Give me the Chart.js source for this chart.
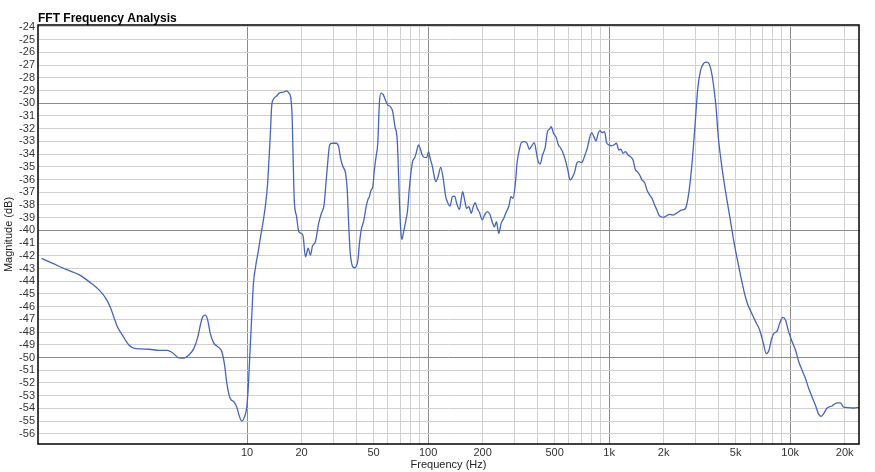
<!DOCTYPE html>
<html><head><meta charset="utf-8">
<script src="https://cdn.jsdelivr.net/npm/chart.js@4.4.1/dist/chart.umd.min.js"></script>
<style>html,body{margin:0;padding:0;background:#fff}canvas{display:block}</style>
</head><body>
<canvas id="c" width="875" height="472"></canvas>
<script>
const chartTitle = 'FFT Frequency Analysis';
const xAxisTitle = 'Frequency (Hz)';
const yAxisTitle = 'Magnitude (dB)';

const freqHz = [
0.732,0.845,1.0,1.185,1.345,1.526,1.659,1.767,1.845,1.924,2.049,2.230,2.424,2.872,3.261,3.622,3.857,4.199,4.472,4.764,
5.077,5.340,5.518,5.687,5.877,6.059,6.262,6.538,6.902,7.261,7.513,7.735,8.065,8.482,8.776,9.036,9.352,9.676,9.96,10.18,
10.39,10.61,10.84,11.16,11.55,11.79,12.30,12.67,12.99,13.21,13.45,13.67,13.97,14.56,15.18,15.85,16.53,17.02,17.45,17.76,
17.99,18.22,18.76,19.31,19.98,20.41,21.01,21.75,22.39,22.96,23.85,24.86,25.73,26.63,27.18,27.77,28.58,29.47,31.11,32.03,
32.85,33.87,34.99,35.75,36.34,37.14,39.21,40.94,41.78,42.68,44.17,45.48,46.45,47.40,48.43,49.48,50.49,51.59,52.72,53.80,
54.96,56.58,58.03,59.82,61.82,63.73,65.61,67.30,68.16,69.29,70.79,71.69,73.25,75.42,77.05,78.63,80.34,82.09,84.51,86.36,
88.58,90.36,92.35,95.06,98.37,100.5,102.6,105.7,107.9,110.2,113.5,117.4,121.5,125.1,128.8,132.1,136.2,140.2,143.8,148.8,
151.2,155.1,159.1,163.2,168.0,173.2,177.6,182.1,186.8,192.3,199.0,204.9,212.0,219.1,225.9,232.6,238.5,245.6,253.2,261.6,
270.7,278.7,287.3,294.7,303.4,310.0,319.1,327.3,339.9,351.8,362.2,371.5,385.8,395.7,404.3,416.2,428.5,443.4,456.5,468.2,
478.5,492.6,509.7,524.8,540.8,559.0,576.2,591.0,608.5,626.5,645.8,662.3,681.9,705.5,719.8,735.5,757.2,776.6,800.6,824.2,
845.3,870.4,889.3,915.5,943.7,967.8,996.3,1031,1061,1098,1131,1160,1194,1231,1272,1311,1355,1397,1432,1475,
1518,1571,1618,1674,1723,1783,1835,1883,1941,1998,2068,2156,2247,2346,2425,2500,2606,2663,2752,2837,
2921,2996,3083,3190,3314,3429,3544,3653,3761,3892,4007,4146,4323,4507,4705,4906,5116,5340,5568,5804,
6138,6456,6791,7079,7381,7638,7904,8137,8484,8746,9119,9435,9750,10177,10708,11163,11640,12150,12667,13211,
13793,14381,14880,15320,15975,17017,18124,18924,19730,21010,22387,23340,24000
];
const magnitudeDb = [
-42.2,-42.6,-43.07,-43.5,-44.05,-44.7,-45.35,-46.14,-46.9,-47.6,-48.24,-49.03,-49.3,-49.35,-49.43,-49.43,-49.6,-50.03,-50.05,-49.8,
-49.3,-48.4,-47.46,-46.8,-46.67,-47.06,-48.1,-48.85,-49.16,-49.56,-50.6,-52.05,-53.2,-53.5,-53.9,-54.55,-55.0,-54.67,-53.9,-52.05,
-49.4,-46.8,-44.2,-42.8,-41.6,-40.76,-39.2,-37.9,-36.3,-34.46,-32.36,-30.27,-29.7,-29.43,-29.17,-29.13,-29.03,-29.2,-29.6,-31.3,
-34.7,-37.6,-38.9,-40.1,-40.24,-40.5,-42.08,-41.4,-41.95,-41.24,-40.9,-39.45,-38.66,-38.0,-36.57,-34.99,-33.28,-33.15,-33.15,-33.4,
-34.33,-35.0,-35.5,-36.83,-39.2,-41.8,-42.94,-42.34,-41.0,-39.98,-39.2,-38.14,-37.6,-37.35,-36.83,-36.57,-35.25,-34.2,-33.15,-30.0,
-29.21,-29.35,-29.74,-30.13,-30.27,-30.66,-31.84,-32.63,-34.2,-37.35,-40.24,-40.7,-40.1,-39.19,-38.4,-36.83,-35.5,-34.6,-34.25,-33.8,
-33.28,-33.54,-33.99,-34.25,-34.28,-33.8,-34.33,-35.0,-35.7,-36.17,-35.78,-35.04,-36.04,-37.35,-37.87,-38.09,-37.35,-37.3,-37.87,-38.35,
-37.87,-36.96,-37.6,-38.27,-38.14,-38.66,-38.14,-37.83,-38.27,-38.6,-39.19,-38.8,-38.53,-38.72,-39.32,-39.72,-39.32,-40.24,-39.45,-39.06,
-38.53,-38.14,-37.35,-37.48,-36.3,-34.72,-33.68,-33.1,-33.02,-33.15,-33.62,-33.41,-33.1,-33.8,-34.52,-34.78,-34.07,-33.47,-32.24,-32.05,
-31.84,-32.36,-32.68,-33.28,-33.54,-33.99,-34.6,-35.25,-36.04,-35.83,-35.38,-34.72,-34.6,-34.68,-34.46,-34.07,-33.54,-32.83,-32.31,-32.63,
-32.97,-32.36,-32.15,-32.31,-32.24,-33.1,-33.28,-33.36,-33.28,-33.15,-33.68,-33.62,-33.94,-33.8,-34.07,-34.2,-34.46,-35.25,-35.38,-35.65,
-36.04,-36.25,-36.83,-37.22,-37.48,-38.0,-38.4,-38.8,-38.93,-38.98,-38.87,-38.74,-38.8,-38.66,-38.53,-38.4,-38.35,-38.14,-37.09,-35.5,
-33.41,-31.3,-28.95,-27.5,-26.9,-26.77,-26.85,-27.38,-28.43,-30.27,-32.63,-34.46,-36.3,-37.87,-39.45,-41.02,-42.34,-43.65,-44.83,-45.75,
-46.54,-47.2,-47.85,-48.77,-49.69,-49.43,-48.5,-48.1,-47.9,-47.32,-46.85,-47.06,-47.85,-48.64,-49.43,-50.35,-51.0,-51.65,-52.44,-53.1,
-53.76,-54.47,-54.62,-54.41,-53.97,-53.81,-53.57,-53.57,-53.9,-53.94,-53.97,-53.94,-53.94
];

const xTickValues = [10,20,30,40,50,60,70,80,90,100,200,300,400,500,600,700,800,900,1000,2000,3000,4000,5000,6000,7000,8000,9000,10000,20000];
const xTickLabels = ['10','20','','','50','','','','','100','200','','','500','','','','','1k','2k','','','5k','','','','','10k','20k'];
const yTickValues = [];
for (let v = -56; v <= -24; v++) yTickValues.push(v);

const xMin = 0.732, xMax = 24000;
const yMin = -56.8, yMax = -23.85;

const FONT = '"Liberation Sans", Arial, Helvetica, sans-serif';

const points = freqHz.map((f, i) => ({x: f, y: magnitudeDb[i]}));

const framePlugin = {
  id: 'frame',
  afterDraw(chart) {
    const {ctx, chartArea: a} = chart;
    ctx.save();
    ctx.strokeStyle = '#000';
    ctx.lineWidth = 1.5;
    ctx.strokeRect(a.left, a.top, a.right - a.left, a.bottom - a.top);
    ctx.fillStyle = '#000';
    ctx.font = 'bold 12px ' + FONT;
    ctx.textBaseline = 'alphabetic';
    ctx.textAlign = 'left';
    ctx.fillText(chartTitle, a.left, 22);
    ctx.restore();
  }
};

new Chart(document.getElementById('c'), {
  type: 'line',
  data: {
    datasets: [{
      data: points,
      borderColor: '#4565b8',
      borderWidth: 1.3,
      pointRadius: 0,
      fill: false,
      tension: 0,
      cubicInterpolationMode: 'monotone'
    }]
  },
  options: {
    responsive: false,
    animation: false,
    devicePixelRatio: 1,
    parsing: false,
    layout: {padding: {top: 25, right: 16, left: 0, bottom: 0}},
    plugins: {legend: {display: false}, tooltip: {enabled: false}, title: {display: false}},
    scales: {
      x: {
        type: 'logarithmic',
        min: xMin, max: xMax,
        afterBuildTicks(s) { s.ticks = xTickValues.map(v => ({value: v})); },
        afterFit(s) { s.height = 28; },
        ticks: {
          autoSkip: false, maxRotation: 0, padding: 2,
          color: '#333', font: {family: FONT, size: 11},
          callback(v) { const i = xTickValues.indexOf(v); return i >= 0 ? xTickLabels[i] : ''; }
        },
        grid: {
          drawTicks: false,
          lineWidth: 1,
          color(ctx) {
            const v = ctx.tick && ctx.tick.value;
            return [10,100,1000,10000].includes(v) ? '#8c8c8c' : '#d0d0d0';
          }
        },
        border: {display: false},
        title: {display: true, text: xAxisTitle, color: '#222', font: {family: FONT, size: 11}, padding: {top: 0, bottom: 0}}
      },
      y: {
        type: 'linear',
        min: yMin, max: yMax,
        afterBuildTicks(s) { s.ticks = yTickValues.map(v => ({value: v})); },
        afterFit(s) { s.width = 38; },
        ticks: {
          autoSkip: false, padding: 3,
          color: '#333', font: {family: FONT, size: 11},
          callback(v) { return String(v); }
        },
        grid: {
          drawTicks: false,
          lineWidth: 1,
          color(ctx) {
            const v = ctx.tick && ctx.tick.value;
            return (v % 10 === 0) ? '#8c8c8c' : '#d0d0d0';
          }
        },
        border: {display: false},
        title: {display: true, text: yAxisTitle, color: '#222', font: {family: FONT, size: 11}, padding: {top: 2, bottom: 0}}
      }
    }
  },
  plugins: [framePlugin]
});
</script>
</body></html>
